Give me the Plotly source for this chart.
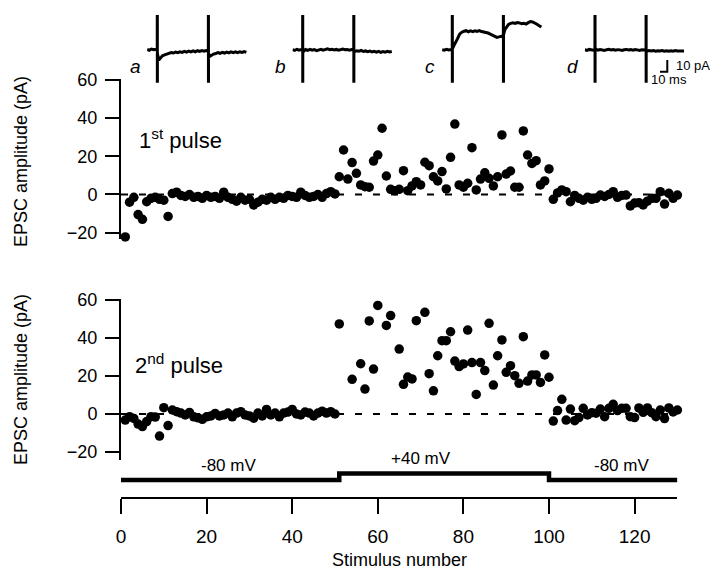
import plotly.graph_objects as go

# ---------------------------------------------------------------
# data
# ---------------------------------------------------------------
stimulus = list(range(1, 131))

# EPSC amplitude (pA), 1st pulse
epsc_1st = [
    -22.2, -4.0, -1.5, -10.5, -13.0, -3.8, -2.0, -1.5, -2.5, -3.0,
    -11.5, 0.5, 1.2, -0.5, -1.0, 0.0, -1.5, -1.0, -2.0, -0.5,
    -1.5, -1.0, -2.0, 1.2, -1.5, -2.5, -3.5, -1.5, -3.0, -2.5,
    -5.5, -4.0, -2.5, -3.0, -1.5, -2.5, -1.5, -2.0, -0.5, -1.0,
    -1.5, 1.2, -0.5, -1.5, -1.0, 0.0, -1.5, 0.5, 1.5, 0.3,
    9.3, 23.3, 8.1, 16.7, 11.1, 5.0, 4.1, 3.8, 17.5, 20.7,
    34.7, 9.7, 2.7, 2.0, 2.7, 12.5, 2.0, 4.5, 6.7, 5.0,
    16.9, 15.1, 9.3, 7.1, 12.0, 2.9, 19.5, 36.9, 5.0, 3.8,
    5.9, 24.5, 2.4, 8.1, 11.4, 8.5, 4.5, 9.3, 31.2, 10.7,
    12.3, 3.8, 3.8, 33.3, 20.7, 16.3, 17.7, 5.0, 7.1, 13.4,
    -2.5, 0.8, 2.4, 1.5, -3.8, -0.5, -2.0, -3.0, -1.5, -2.5,
    -2.0, -0.3, -1.0, 0.0, 1.5, -1.5, -0.5, -0.3, -6.0, -4.5,
    -4.3, -5.5, -3.5, -2.0, -2.0, 1.5, -5.0, 0.6, -2.0, -0.3,
]

# EPSC amplitude (pA), 2nd pulse (None = off scale)
epsc_2nd = [
    -3.2, -1.4, -2.3, -5.3, -6.6, -4.0, -1.4, -1.6, -11.6, 3.3,
    -6.1, 2.1, 1.2, 0.5, -0.5, 0.8, -1.5, -2.0, -2.8, -1.5,
    -1.0, 0.3, -1.0, -0.5, 0.5, -1.5, 0.5, 1.2, -0.5, -1.0,
    -2.2, 0.5, -1.0, 2.4, -0.5, 0.5, -1.5, 0.5, 1.0, 2.4,
    0.0, -0.5, 1.0, 0.5, -1.0, 0.5, 1.5, 0.5, 1.2, 0.0,
    47.3, None, None, 18.2, None, 26.4, 13.1, 48.9, 23.6, 57.0,
    None, 46.5, 51.7, None, 34.1, 15.6, 19.4, 18.4, 49.0, None,
    53.4, 21.2, 12.2, 30.6, 38.5, 38.5, 43.2, 27.8, 24.9, 26.3,
    44.1, 27.0, 10.3, 27.0, 22.8, 47.6, 15.2, 30.6, 38.9, 21.9,
    25.4, 20.1, 16.1, 40.6, 17.3, 20.5, 20.5, 16.6, 31.0, 19.3,
    -3.7, 1.8, 7.7, -3.2, 2.6, -3.5, -1.9, 3.0, -0.5, 0.7,
    0.4, 2.6, -1.4, 3.0, 5.1, 1.8, 3.0, 3.0, -1.4, -1.9,
    3.2, 0.9, 3.2, 0.7, -1.4, 2.1, -2.4, 3.2, 1.1, 2.1,
]

# holding potential protocol
step_stimulus = [0, 51, 100, 130]
step_mv = [-80, 40, -80, -80]
step_labels = ["-80 mV", "+40 mV", "-80 mV"]
step_label_x = [25, 70, 117]

zero_x = [0, 130]
zero_y = [0, 0]

# example sweeps (time in ms, current in pA, stimulus artifacts at 14 and 84 ms)
t_ms = [0, 3, 6, 9, 12, 13.9, 14, 14.05, 14.1, 16, 18, 21, 24, 27, 30, 33, 36,
        39, 42, 45, 48, 51, 54, 57, 60, 63, 66, 69, 72, 75, 78, 81, 83.9, 84,
        84.05, 84.1, 86, 88, 91, 94, 97, 100, 103, 106, 109, 112, 115, 118,
        121, 124, 127, 130, 133, 136]

sweep_a = [0.5, -0.3, 0.8, 0.2, 0.6, 0.4, 200, -200, -3, -8.5, -7, -5, -4.2,
           -3.5, -3, -2.2, -2.6, -1.8, -2.3, -1.5, -2, -1.2, -1.8, -1, -1.6,
           -0.8, -1.5, -0.6, -1.2, -0.5, -1, -0.4, -0.7, 200, -200, -3, -5.5,
           -4.5, -3.5, -3, -2.2, -2.8, -2, -2.6, -1.8, -2.4, -1.6, -2.2, -1.5,
           -2.3, -1.6, -2.1, -1.4, -2]
sweep_b = [0.3, -0.4, 0.6, -0.2, 0.4, 0, 200, -200, 0, -0.8, 0.4, -0.3, 0.5,
           -0.2, 0.3, -0.5, 0.2, 0.6, -0.1, 0.4, 1.0, 0.3, 0.7, 0.1, 0.5, -0.2,
           0.4, 0.8, 0.2, 0.5, -0.1, 0.3, 0, 200, -200, -0.5, -1.2, -0.6, -1.0,
           -0.4, -1.3, -0.8, -1.5, -0.9, -1.6, -1.1, -1.8, -1.2, -2.0, -1.4,
           -1.8, -1.1, -1.7, -1.3]
sweep_c = [0.3, -0.2, 0.5, 0, 0.4, 0.2, 200, -200, 1, 3.5, 6.5, 9.5, 13.5,
           15.2, 16, 16.5, 15.6, 16.3, 15.7, 16.4, 15.9, 16.6, 15.8, 15.5, 15,
           14.5, 13.6, 12.5, 11.4, 10.8, 11.2, 12, 12.3, 200, -200, 13, 17.5,
           19.5, 21.8, 22.8, 23.2, 22.7, 23.5, 23.1, 22.4, 22.9, 22.2, 23.4,
           24.3, 24.0, 23.2, 22.0, 20.8, 19.6]
sweep_d = [0.2, -0.3, 0.5, 0.1, -0.2, 0.2, 200, -200, 0, 0.5, -0.2, 0.4, 0.1,
           -0.3, 0.3, 0.6, 0, 0.4, -0.2, 0.3, 0.1, -0.4, 0.2, 0.5, 0, 0.3,
           -0.2, 0.4, 0.1, -0.3, 0.2, 0, 0.1, 200, -200, -0.3, -0.8, -0.4,
           -0.9, -0.5, -1.0, -0.6, -0.9, -0.4, -1.0, -0.7, -1.1, -0.6, -1.0,
           -0.5, -0.9, -0.7, -1.0, -0.8]
sweeps = [sweep_a, sweep_b, sweep_c, sweep_d]
sweep_names = ["a", "b", "c", "d"]
sweep_stimulus = [8, 42, 75, 115]

scale_ms = 10
scale_pa = 10

# ---------------------------------------------------------------
# layout helpers (pixel geometry of the 720 x 572 page;
# the page body adds an 8 px offset which is taken out here)
# ---------------------------------------------------------------
W, H = 720, 572
OFF = 8
FONT = "Arial, Liberation Sans, sans-serif"


def xf(px):
    return (px - OFF) / W


def yf(px):
    return 1 - (px - OFF) / H


def ydom(zero_px, ppu, lo, hi):
    return [yf(zero_px - lo * ppu), yf(zero_px - hi * ppu)]


X0, X_PPU = 121, 4.28
x_dom = [xf(X0), xf(X0 + 130 * X_PPU)]

TOP = dict(zero=194.5, ppu=1.909, rng=[-23.5, 60.5])
BOT = dict(zero=414.0, ppu=1.904, rng=[-24.4, 60.5])
V_PPU = 6.6 / 120
V_ZERO = 480 - 80 * V_PPU
V_RNG = [-140, 100]

MS_PX, PA_PX = 0.73, 1.17
INSET_ZERO = 50
INSET_RNG = [-(82.7 - INSET_ZERO) / PA_PX, (INSET_ZERO - 15) / PA_PX]
inset_start = [147.1, 292.5, 442.1, 584.8]
INSET_T = [0, 137]

fig = go.Figure()

# zero lines
for ya in ["y", "y2"]:
    fig.add_trace(go.Scatter(x=zero_x, y=zero_y, mode="lines", xaxis="x", yaxis=ya,
                             line=dict(color="black", width=2, dash="7px,11px"),
                             hoverinfo="skip"))

marker = dict(color="black", size=9.5, line=dict(width=0))
fig.add_trace(go.Scatter(x=stimulus, y=epsc_1st, mode="markers", xaxis="x", yaxis="y",
                         marker=marker, cliponaxis=False))
fig.add_trace(go.Scatter(x=stimulus, y=epsc_2nd, mode="markers", xaxis="x", yaxis="y2",
                         marker=marker, cliponaxis=False))

# holding potential
fig.add_trace(go.Scatter(x=step_stimulus, y=step_mv, mode="lines", xaxis="x", yaxis="y3",
                         line=dict(color="black", width=4.5, shape="hv")))

# example sweeps
for i, sw in enumerate(sweeps):
    fig.add_trace(go.Scatter(x=t_ms, y=sw, mode="lines", xaxis="x%d" % (i + 2), yaxis="y4",
                             line=dict(color="black", width=3)))

# scale bar on sweep d
sb_t, sb_i = 103, -18.5
fig.add_trace(go.Scatter(x=[sb_t, sb_t + scale_ms, sb_t + scale_ms],
                         y=[sb_i, sb_i, sb_i + scale_pa], mode="lines",
                         xaxis="x5", yaxis="y4", line=dict(color="black", width=2)))

axis_common = dict(showline=True, linecolor="black", linewidth=2, ticks="outside",
                   tickcolor="black", tickwidth=2, showgrid=False, zeroline=False,
                   automargin=False,
                   tickfont=dict(family=FONT, size=18, color="black"))
hidden = dict(visible=False, showgrid=False, zeroline=False)

layout = dict(
    width=W, height=H, margin=dict(l=0, r=0, t=0, b=0, autoexpand=False),
    plot_bgcolor="white", paper_bgcolor="white", showlegend=False,
    font=dict(family=FONT, color="black"),
    xaxis=dict(axis_common, domain=x_dom, range=[0, 130], anchor="free",
               position=yf(497.7), ticklen=15, tickvals=[0, 20, 40, 60, 80, 100, 120],
               ticklabelstandoff=6, tickfont=dict(family=FONT, size=19, color="black")),
    yaxis=dict(axis_common, domain=ydom(TOP["zero"], TOP["ppu"], *TOP["rng"]),
               range=TOP["rng"], anchor="x", ticklen=14, tickvals=[-20, 0, 20, 40, 60],
               ticklabelstandoff=4),
    yaxis2=dict(axis_common, domain=ydom(BOT["zero"], BOT["ppu"], *BOT["rng"]),
                range=BOT["rng"], anchor="x", ticklen=14, tickvals=[-20, 0, 20, 40, 60],
                ticklabelstandoff=4),
    yaxis3=dict(hidden, domain=ydom(V_ZERO, V_PPU, *V_RNG), range=V_RNG, anchor="x"),
    yaxis4=dict(hidden, domain=[yf(82.7), yf(15)], range=INSET_RNG, anchor="x2"),
)
for i, s in enumerate(inset_start):
    layout["xaxis%d" % (i + 2)] = dict(hidden, domain=[xf(s), xf(s + INSET_T[1] * MS_PX)],
                                       range=INSET_T, anchor="y4")

ann = []


def paper_text(px, py, text, font, xanchor="center", **kw):
    ann.append(dict(x=xf(px), y=yf(py), xref="paper", yref="paper", text=text,
                    xanchor=xanchor, yanchor="middle", showarrow=False, font=font, **kw))


title_font = dict(family=FONT, size=18, color="black")
for ycen in [162, 380]:
    paper_text(21, ycen, "EPSC amplitude (pA)", title_font, textangle=-90)
paper_text((X0 + X0 + 130 * X_PPU) / 2, 560, "Stimulus number", title_font)

pulse_font = dict(family=FONT, size=22, color="black")
paper_text(137, 139, "1<sup>st</sup> pulse", pulse_font, xanchor="left")
paper_text(133, 364, "2<sup>nd</sup> pulse", pulse_font, xanchor="left")

for lab, xs in zip(step_labels, step_label_x):
    lvl = 40 if lab.startswith("+") else -80
    ann.append(dict(x=xs, y=lvl, xref="x", yref="y3", xanchor="center", yanchor="bottom",
                    yshift=3, text=lab, showarrow=False,
                    font=dict(family=FONT, size=17, color="black")))

letter_font = dict(family=FONT, size=19, color="black")
for name, s, st in zip(sweep_names, sweep_stimulus, inset_start):
    ann.append(dict(x=s, y=-25.5, xref="x", yref="y", xanchor="center", yanchor="middle",
                    text="<i>%s</i>" % name, showarrow=False, font=letter_font))
    paper_text(st - 12, 67, "<i>%s</i>" % name, letter_font)

sb_font = dict(family=FONT, size=13, color="black")
paper_text(674, 66, "10 pA", sb_font, xanchor="left")
paper_text(649, 80, "10 ms", sb_font, xanchor="left")

layout["annotations"] = ann
fig.update_layout(layout)

fig.write_html("out.html")
